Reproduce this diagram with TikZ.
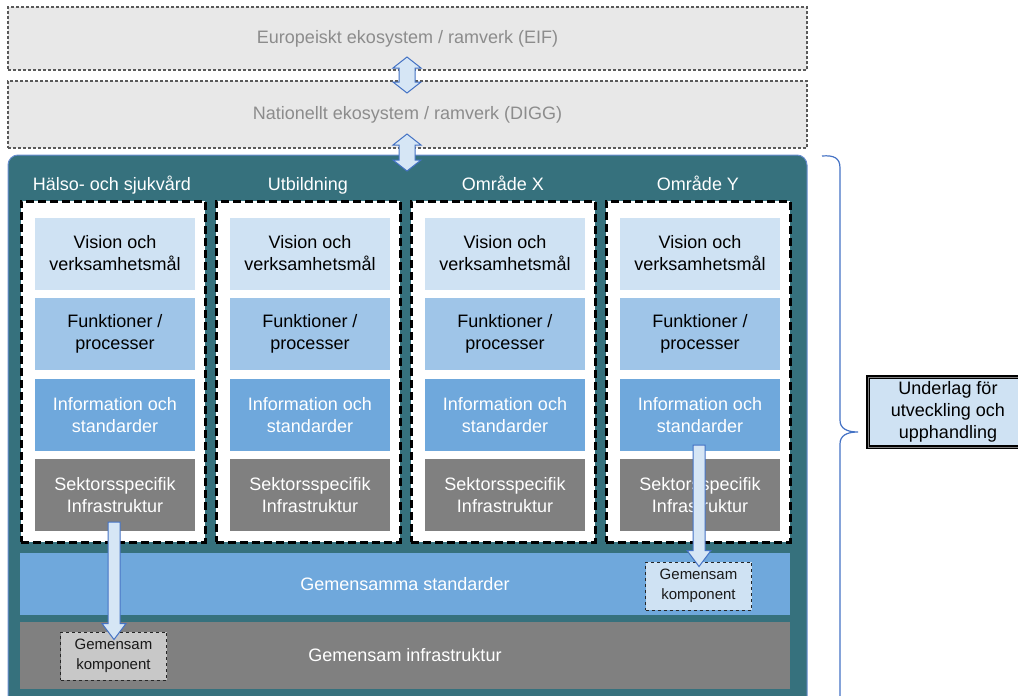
\documentclass[tikz,border=0pt]{standalone}
\usepackage{fontspec}
\setmainfont{Liberation Sans}
\usetikzlibrary{calc}
\definecolor{tealbg}{RGB}{54,113,125}
\definecolor{visioncol}{RGB}{207,226,243}
\definecolor{funkcol}{RGB}{159,197,232}
\definecolor{infocol}{RGB}{111,168,220}
\definecolor{sektcol}{RGB}{128,128,128}
\definecolor{ecocol}{RGB}{232,232,232}
\definecolor{kompgray}{RGB}{200,200,200}
\definecolor{arrowblue}{RGB}{68,114,196}
\definecolor{arrowfill}{RGB}{214,230,245}
\tikzset{ecobox/.style={draw=black!65, dash pattern=on 3pt off 2pt, line width=1.1pt, fill=ecocol, text=black!45,
    minimum width=799pt, inner sep=0pt}}
\tikzset{tealpanel/.style={draw=arrowblue!80, line width=1pt, fill=tealbg, rounded corners=10pt,
    minimum width=799pt, minimum height=560pt, inner sep=0pt}}
\tikzset{header/.style={text=white, inner sep=0pt, anchor=base}}
\tikzset{colbox/.style={draw=black, fill=white, line width=3pt, dash pattern=on 8pt off 4pt,
    minimum width=184pt, minimum height=341pt, inner sep=0pt}}
\tikzset{layerbox/.style={minimum width=160pt, minimum height=72pt, inner sep=0pt, align=center}}
\tikzset{bandbox/.style={text=white, minimum width=770pt, inner sep=0pt}}
\tikzset{kompbox/.style={draw=black!85, dashed, line width=1pt, minimum width=106pt, minimum height=48pt,
    inner sep=0pt, align=center, text=black!90, font=\fontsize{15}{19.5}\selectfont}}
\tikzset{blockarr/.style={draw=arrowblue, line width=1pt, fill=arrowfill, line join=miter}}
\tikzset{labelbox/.style={draw=black, line width=1.6pt, double=black!50, double distance=0.6pt,
    fill=visioncol, minimum width=160pt, minimum height=70pt, inner sep=0pt, align=center}}
\tikzset{bracestyle/.style={draw=arrowblue, line width=1.2pt}}
\newcommand{\blockdown}[2]{%
  \draw[blockarr] let \p1=(#1), \p2=(#2) in
    (\x1-6pt,\y1) -- (\x1+6pt,\y1) -- (\x1+6pt,\y2+16pt) -- (\x1+12pt,\y2+16pt)
    -- (\x1,\y2) -- (\x1-12pt,\y2+16pt) -- (\x1-6pt,\y2+16pt) -- cycle;}
\newcommand{\blockboth}[2]{%
  \draw[blockarr] let \p1=(#1), \p2=(#2) in
    (\x1,\y1) -- (\x1+14pt,\y1-11pt) -- (\x1+8pt,\y1-11pt) -- (\x1+8pt,\y2+11pt)
    -- (\x1+14pt,\y2+11pt) -- (\x1,\y2) -- (\x1-14pt,\y2+11pt) -- (\x1-8pt,\y2+11pt)
    -- (\x1-8pt,\y1-11pt) -- (\x1-14pt,\y1-11pt) -- cycle;}

\begin{document}
\begin{tikzpicture}[x=1pt, y=-1pt, font=\fontsize{18}{22}\selectfont]
    \useasboundingbox (0,0) rectangle (1018,696);

    % ekosystem
    \node[ecobox, minimum height=63pt] (eif) at (407.5,38.5) {Europeiskt ekosystem / ramverk (EIF)};
    \node[ecobox, minimum height=67pt] (digg) at (407.5,114.5) {Nationellt ekosystem / ramverk (DIGG)};

    \node[tealpanel] (panel) at (407.5,435) {};

    \node[header] (h1) at (112,190.5) {Hälso- och sjukvård};
    \node[header] (h2) at (308,190.5) {Utbildning};
    \node[header] (h3) at (503,190.5) {Område X};
    \node[header] (h4) at (698,190.5) {Område Y};

    \node[colbox] (col1) at (113,371.5) {};
    \node[colbox] (col2) at (308,371.5) {};
    \node[colbox] (col3) at (503,371.5) {};
    \node[colbox] (col4) at (698,371.5) {};

    % lager per omrade
    \node[layerbox, fill=visioncol] (vis1) at (115,253.5) {Vision och\\verksamhetsmål};
    \node[layerbox, fill=funkcol] (fun1) at (115,334) {Funktioner /\\processer};
    \node[layerbox, fill=infocol, text=white] (inf1) at (115,415) {Information och\\standarder};
    \node[layerbox, fill=sektcol, text=white] (sek1) at (115,495) {Sektorsspecifik\\Infrastruktur};

    \node[layerbox, fill=visioncol] (vis2) at (310,253.5) {Vision och\\verksamhetsmål};
    \node[layerbox, fill=funkcol] (fun2) at (310,334) {Funktioner /\\processer};
    \node[layerbox, fill=infocol, text=white] (inf2) at (310,415) {Information och\\standarder};
    \node[layerbox, fill=sektcol, text=white] (sek2) at (310,495) {Sektorsspecifik\\Infrastruktur};

    \node[layerbox, fill=visioncol] (vis3) at (505,253.5) {Vision och\\verksamhetsmål};
    \node[layerbox, fill=funkcol] (fun3) at (505,334) {Funktioner /\\processer};
    \node[layerbox, fill=infocol, text=white] (inf3) at (505,415) {Information och\\standarder};
    \node[layerbox, fill=sektcol, text=white] (sek3) at (505,495) {Sektorsspecifik\\Infrastruktur};

    \node[layerbox, fill=visioncol] (vis4) at (700,253.5) {Vision och\\verksamhetsmål};
    \node[layerbox, fill=funkcol] (fun4) at (700,334) {Funktioner /\\processer};
    \node[layerbox, fill=infocol, text=white] (inf4) at (700,415) {Information och\\standarder};
    \node[layerbox, fill=sektcol, text=white] (sek4) at (700,495) {Sektorsspecifik\\Infrastruktur};

    \node[bandbox, fill=infocol, minimum height=62pt] (std) at (405,584) {Gemensamma standarder};
    \node[bandbox, fill=sektcol, minimum height=67pt] (infra) at (405,655.5) {Gemensam infrastruktur};

    \node[kompbox, fill=visioncol] (komp2) at (698.5,586) {Gemensam\\komponent};
    \node[kompbox, fill=kompgray] (komp1) at (113.5,656) {Gemensam\\komponent};

    % pilar
    \coordinate (e1) at (407,57);
    \coordinate (e2) at (407,93);
    \coordinate (n1) at (407,134);
    \coordinate (n2) at (407,171);
    \blockboth{e1}{e2}
    \blockboth{n1}{n2}

    \coordinate (a1) at (114,522);
    \coordinate (a2) at (699,445);
    \blockdown{a1}{$(komp1.north)+(0,8)$}
    \blockdown{a2}{$(komp2.north)+(0,5)$}

    % klammer
    \node[labelbox] (under) at (948,412) {Underlag för\\utveckling och\\upphandling};
    \coordinate (btop) at (822,156);
    \coordinate (btip) at (858,432);
    \coordinate (bbot) at (822,708);
    \draw[bracestyle] (btop) .. controls (834,155) and (840,158) .. (840,168) -- (840,420)
        .. controls (840,428) and (846,432) .. (btip)
        .. controls (846,432) and (840,436) .. (840,444) -- (840,696)
        .. controls (840,704) and (834,708) .. (bbot);
\end{tikzpicture}
\end{document}
